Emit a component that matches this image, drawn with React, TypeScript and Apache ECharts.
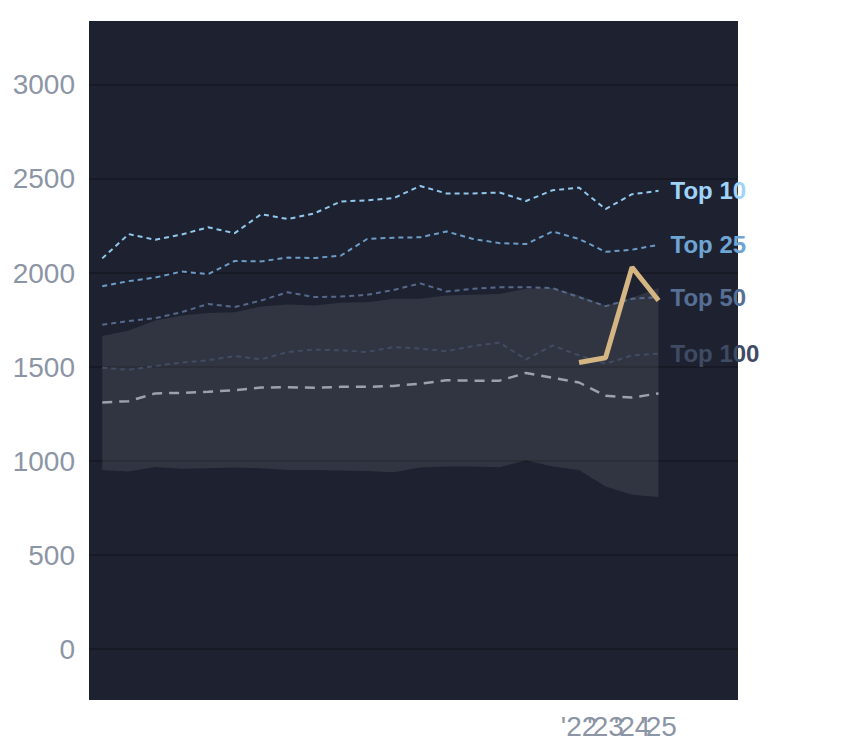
import React, { useEffect, useRef } from "react";
import * as echarts from "echarts";

const years = [2004, 2005, 2006, 2007, 2008, 2009, 2010, 2011, 2012, 2013, 2014, 2015, 2016, 2017, 2018, 2019, 2020, 2021, 2022, 2023, 2024, 2025];
const top10 = [2078, 2207, 2177, 2205, 2243, 2212, 2313, 2287, 2317, 2380, 2387, 2398, 2463, 2423, 2423, 2428, 2383, 2440, 2454, 2340, 2419, 2437];
const top25 = [1930, 1957, 1976, 2008, 1994, 2064, 2062, 2082, 2080, 2092, 2181, 2188, 2190, 2221, 2181, 2159, 2154, 2221, 2181, 2113, 2124, 2150];
const top50 = [1725, 1745, 1760, 1792, 1836, 1819, 1854, 1898, 1872, 1875, 1884, 1910, 1945, 1902, 1916, 1925, 1925, 1920, 1872, 1824, 1863, 1872];
const top100 = [1497, 1485, 1506, 1524, 1536, 1559, 1541, 1580, 1593, 1589, 1580, 1607, 1598, 1584, 1612, 1630, 1541, 1615, 1562, 1518, 1562, 1571];
const median = [1312, 1319, 1360, 1363, 1369, 1377, 1391, 1393, 1390, 1395, 1395, 1400, 1412, 1430, 1428, 1428, 1469, 1443, 1418, 1347, 1338, 1360];
const bandHigh = [1665, 1695, 1748, 1774, 1787, 1792, 1822, 1833, 1827, 1842, 1845, 1863, 1863, 1880, 1884, 1889, 1916, 1920, 1880, 1827, 1868, 1920];
const bandLow = [953, 945, 969, 959, 962, 966, 962, 953, 953, 950, 948, 941, 966, 971, 971, 968, 1003, 971, 953, 865, 821, 809];
const highlightYears = [2022, 2023, 2024, 2025];
const highlight = [1524, 1550, 2031, 1854];
const xLabelYears = [2022, 2023, 2024, 2025];

const pairs = (xs: number[], ys: number[]) => xs.map((x, i) => [x, ys[i]]);

export default function App() {
  const ref = useRef<HTMLDivElement>(null);
  useEffect(() => {
    if (!ref.current) return;
    const chart = echarts.init(ref.current, undefined, { renderer: "svg" });
    const font = "Liberation Sans, Arial, sans-serif";
    const grid = "#171a25";
    const topLine = (name: string, data: number[], color: string, labelColor: string) => ({
      name,
      type: "line",
      data: pairs(years, data),
      symbol: "none",
      lineStyle: { color, width: 2, type: [5, 4] },
      endLabel: {
        show: true,
        formatter: name,
        color: labelColor,
        fontSize: 24,
        fontWeight: "bold",
        fontFamily: font,
        distance: 12,
      },
      z: 3,
    });
    chart.setOption({
      animation: false,
      backgroundColor: "#ffffff",
      grid: {
        left: 81,
        top: 13,
        right: 98,
        bottom: 37,
        show: true,
        backgroundColor: "#1e2230",
        borderWidth: 0,
      },
      xAxis: {
        type: "value",
        min: 2003.5,
        max: 2028,
        interval: 0.5,
        axisLine: { show: false },
        axisTick: { show: false },
        splitLine: { show: false },
        axisLabel: {
          color: "#8c95a5",
          fontSize: 28,
          fontFamily: font,
          margin: 12,
          formatter: (v: number) => (xLabelYears.includes(v) ? "'" + String(v).slice(2) : ""),
        },
      },
      yAxis: {
        type: "value",
        min: -270,
        max: 3340,
        splitNumber: 7,
        axisLine: { show: false },
        axisTick: { show: false },
        splitLine: {
          show: true,
          lineStyle: {
            color: ["rgba(0,0,0,0)", grid, grid, grid, grid, grid, grid, grid, "rgba(0,0,0,0)"],
            width: 2,
          },
        },
        axisLabel: {
          color: "#8c95a5",
          fontSize: 28,
          fontFamily: font,
          margin: 14,
          showMinLabel: false,
          showMaxLabel: false,
          formatter: (v: number) => (v >= 0 && v <= 3000 && v % 500 === 0 ? String(v) : ""),
        },
      },
      series: [
        {
          name: "band",
          type: "custom",
          data: years.map((y, i) => [y, bandLow[i], bandHigh[i]]),
          encode: { x: 0, y: [1, 2] },
          renderItem: (params: any, api: any) => {
            if (params.dataIndex !== 0) return null;
            const top = years.map((y, i) => api.coord([y, bandHigh[i]]));
            const bottom = years.map((y, i) => api.coord([y, bandLow[i]])).reverse();
            return {
              type: "polygon",
              shape: { points: top.concat(bottom) },
              style: { fill: "rgba(255,255,255,0.085)" },
            };
          },
          z: 1,
        },
        {
          name: "median",
          type: "line",
          data: pairs(years, median),
          symbol: "none",
          lineStyle: { color: "#9ca1ab", width: 2.5, type: [10, 7] },
          z: 2,
        },
        topLine("Top 100", top100, "#414c64", "#3f4a63"),
        topLine("Top 50", top50, "#55698c", "#566f94"),
        topLine("Top 25", top25, "#6c9dc9", "#6fa5d5"),
        topLine("Top 10", top10, "#92c7ee", "#a0d3fa"),
        {
          name: "highlight",
          type: "line",
          data: pairs(highlightYears, highlight),
          symbol: "none",
          lineStyle: { color: "#d5b683", width: 5 },
          z: 5,
        },
      ],
    });
    return () => chart.dispose();
  }, []);
  return <div ref={ref} style={{ width: 828, height: 732 }} />;
}
